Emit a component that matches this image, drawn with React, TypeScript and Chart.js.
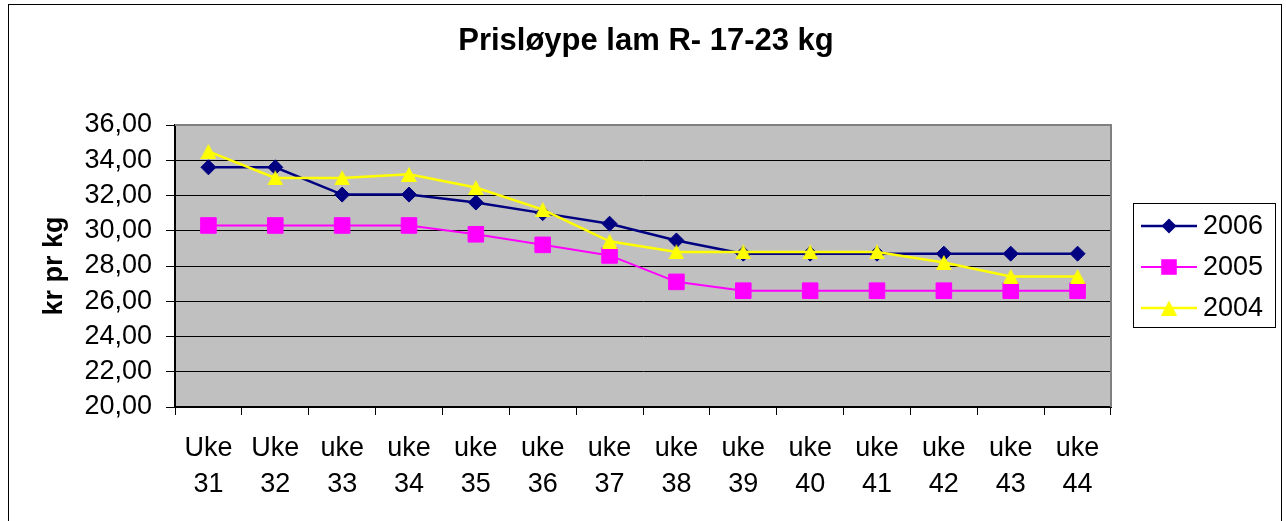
import React, { useEffect, useRef } from 'react';
import { Chart, registerables } from 'chart.js';

Chart.register(...registerables);

const TITLE = 'Prisløype lam R- 17-23 kg';
const Y_TITLE = 'kr pr kg';
const WEEK_WORDS = ['Uke', 'Uke', 'uke', 'uke', 'uke', 'uke', 'uke', 'uke', 'uke', 'uke', 'uke', 'uke', 'uke', 'uke'];
const WEEK_NUMBERS = ['31', '32', '33', '34', '35', '36', '37', '38', '39', '40', '41', '42', '43', '44'];
const SERIES_NAMES = ['2006', '2005', '2004'];
const VALUES_2006 = [33.6, 33.6, 32.05, 32.05, 31.6, 31.0, 30.4, 29.45, 28.7, 28.7, 28.7, 28.7, 28.7, 28.7];
const VALUES_2005 = [30.3, 30.3, 30.3, 30.3, 29.8, 29.2, 28.6, 27.1, 26.6, 26.6, 26.6, 26.6, 26.6, 26.6];
const VALUES_2004 = [34.5, 33.0, 33.0, 33.2, 32.45, 31.2, 29.4, 28.8, 28.8, 28.8, 28.8, 28.2, 27.4, 27.4];
const Y_MIN = 20;
const Y_MAX = 36;
const Y_STEP = 2;

const FONT = '"Liberation Sans", Arial, sans-serif';
const COLORS = ['#000080', '#FF00FF', '#FFFF00'];

function makeTriangle(color: string): HTMLCanvasElement {
  const c = document.createElement('canvas');
  c.width = 16;
  c.height = 15;
  const g = c.getContext('2d')!;
  g.fillStyle = color;
  g.beginPath();
  g.moveTo(8, 0);
  g.lineTo(16, 15);
  g.lineTo(0, 15);
  g.closePath();
  g.fill();
  return c;
}

export default function App() {
  const ref = useRef<HTMLCanvasElement | null>(null);

  useEffect(() => {
    if (!ref.current) return;
    const tri = makeTriangle(COLORS[2]);
    const labels = WEEK_WORDS.map((w, i) => [w, WEEK_NUMBERS[i]]);

    const framePlugin = {
      id: 'frame',
      beforeDraw(chart: any) {
        const { ctx, chartArea: a } = chart;
        ctx.save();
        ctx.fillStyle = '#C0C0C0';
        ctx.fillRect(a.left, a.top, a.right - a.left, a.bottom - a.top);
        ctx.restore();
      },
      afterDraw(chart: any) {
        const { ctx, chartArea: a } = chart;
        ctx.save();
        // title
        ctx.fillStyle = '#000';
        ctx.font = `bold 31px ${FONT}`;
        ctx.textAlign = 'center';
        ctx.textBaseline = 'middle';
        ctx.fillText(TITLE, 646, 41);
        // plot border (top, right)
        ctx.strokeStyle = '#808080';
        ctx.lineWidth = 2;
        ctx.beginPath();
        ctx.moveTo(a.left, a.top);
        ctx.lineTo(a.right, a.top);
        ctx.lineTo(a.right, a.bottom);
        ctx.stroke();
        // outer border
        ctx.strokeStyle = '#000';
        ctx.lineWidth = 1;
        ctx.strokeRect(8.5, 4.5, 1273, 530);
        // legend
        const bx = 1133.5, by = 203.5, bw = 142, bh = 124;
        ctx.strokeRect(bx, by, bw, bh);
        const rows = [226, 267, 308];
        chart.data.datasets.forEach((ds: any, i: number) => {
          const y = rows[i];
          ctx.strokeStyle = ds.borderColor;
          ctx.lineWidth = ds.borderWidth;
          ctx.beginPath();
          ctx.moveTo(1141, y);
          ctx.lineTo(1197, y);
          ctx.stroke();
          const cx = 1169;
          ctx.fillStyle = ds.backgroundColor;
          if (ds.pointStyle === 'rectRot') {
            const r = ds.pointRadius;
            ctx.beginPath();
            ctx.moveTo(cx, y - r);
            ctx.lineTo(cx + r, y);
            ctx.lineTo(cx, y + r);
            ctx.lineTo(cx - r, y);
            ctx.closePath();
            ctx.fill();
          } else if (ds.pointStyle === 'rect') {
            const s = ds.pointRadius * Math.SQRT1_2;
            ctx.fillRect(cx - s, y - s, 2 * s, 2 * s);
          } else if (ds.pointStyle instanceof HTMLCanvasElement) {
            const im = ds.pointStyle;
            ctx.drawImage(im, cx - im.width / 2, y - im.height / 2);
          }
          ctx.fillStyle = '#000';
          ctx.font = `27px ${FONT}`;
          ctx.textAlign = 'left';
          ctx.textBaseline = 'middle';
          ctx.fillText(ds.label, 1203, y + 1);
        });
        ctx.restore();
      },
    };

    const chart = new Chart(ref.current, {
      type: 'line',
      data: {
        labels,
        datasets: [
          {
            label: SERIES_NAMES[0],
            data: VALUES_2006,
            borderColor: COLORS[0],
            backgroundColor: COLORS[0],
            borderWidth: 2.5,
            pointStyle: 'rectRot',
            pointRadius: 7.5,
            pointBorderWidth: 1,
            tension: 0,
            order: 2,
          },
          {
            label: SERIES_NAMES[1],
            data: VALUES_2005,
            borderColor: COLORS[1],
            backgroundColor: COLORS[1],
            borderWidth: 2,
            pointStyle: 'rect',
            pointRadius: 11,
            pointBorderWidth: 1,
            tension: 0,
            order: 1,
          },
          {
            label: SERIES_NAMES[2],
            data: VALUES_2004,
            borderColor: COLORS[2],
            backgroundColor: COLORS[2],
            borderWidth: 2.5,
            pointStyle: tri as any,
            pointRadius: 8,
            tension: 0,
            order: 0,
          },
        ],
      },
      options: {
        animation: false,
        responsive: false,
        events: [],
        layout: { padding: { left: 0, top: 125, right: 175, bottom: 0 } },
        plugins: {
          legend: { display: false },
          tooltip: { enabled: false },
          title: { display: false },
        },
        scales: {
          x: {
            type: 'category',
            offset: true,
            grid: {
              display: true,
              drawOnChartArea: false,
              drawTicks: true,
              tickLength: 8,
              offset: true,
              color: '#000',
              lineWidth: 1,
            },
            border: { display: true, color: '#000', width: 2 },
            ticks: {
              color: '#000',
              font: { family: FONT, size: 27, lineHeight: 1.31 },
              padding: 16,
              maxRotation: 0,
              minRotation: 0,
              autoSkip: false,
            },
            afterFit(scale: any) {
              scale.height = 114;
            },
          },
          y: {
            min: Y_MIN,
            max: Y_MAX,
            grid: { color: '#000', lineWidth: 1, tickLength: 9, drawTicks: true },
            border: { display: true, color: '#000', width: 2 },
            ticks: {
              stepSize: Y_STEP,
              autoSkip: false,
              color: '#000',
              font: { family: FONT, size: 27 },
              padding: 14,
              callback: (v: any) => Number(v).toFixed(2).replace('.', ','),
            },
            title: {
              display: true,
              text: Y_TITLE,
              color: '#000',
              font: { family: FONT, size: 27, weight: 'bold', lineHeight: 1.2 },
              padding: { top: 38, bottom: 0 },
            },
            afterFit(scale: any) {
              scale.width = 175;
            },
          },
        },
      },
      plugins: [framePlugin],
    } as any);

    return () => chart.destroy();
  }, []);

  return (
    <div style={{ position: 'absolute', left: 0, top: 0, width: 1286, height: 521, background: '#fff' }}>
      <canvas ref={ref} width={1286} height={521} style={{ display: 'block' }} />
    </div>
  );
}
